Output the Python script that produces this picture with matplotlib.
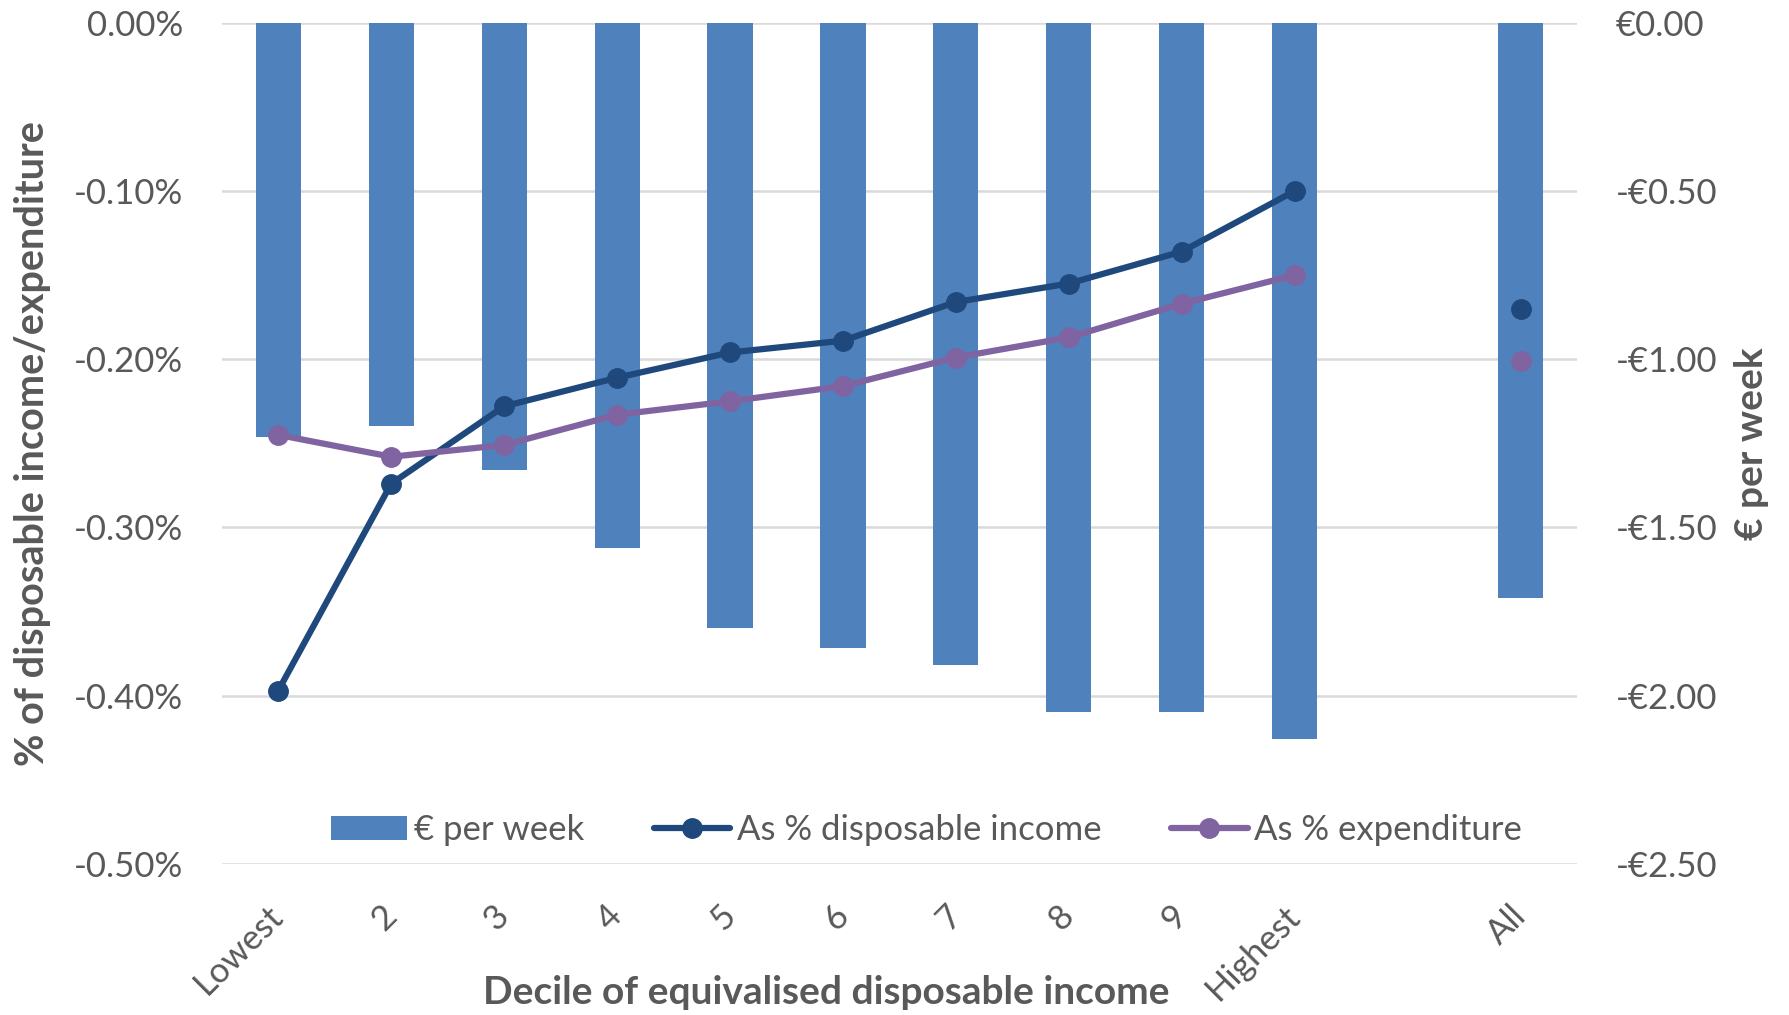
import numpy as np
import matplotlib
matplotlib.use("Agg")
import matplotlib.pyplot as plt
from matplotlib.ticker import FuncFormatter, FixedLocator

plt.rcParams['font.family'] = ['Lato', 'DejaVu Sans']

# Decile groups (blank slot separates the deciles from the overall figure)
categories = ["Lowest", "2", "3", "4", "5", "6", "7", "8", "9", "Highest", "", "All"]

# Weekly cost in euro (right axis)
euro_per_week = [-1.23, -1.20, -1.33, -1.56, -1.80, -1.86, -1.91, -2.05, -2.05, -2.13, np.nan, -1.71]
# Share of disposable income, in percent (left axis)
pct_disposable_income = [-0.397, -0.274, -0.228, -0.211, -0.196, -0.189, -0.166, -0.155, -0.136, -0.100, np.nan, -0.170]
# Share of expenditure, in percent (left axis)
pct_expenditure = [-0.245, -0.258, -0.251, -0.233, -0.225, -0.216, -0.199, -0.187, -0.167, -0.150, np.nan, -0.201]

left_ticks = [0.0, -0.1, -0.2, -0.3, -0.4, -0.5]
right_ticks = [0.0, -0.5, -1.0, -1.5, -2.0, -2.5]

BAR = "#4F81BD"
NAVY = "#1F497D"
PURPLE = "#8064A2"
TEXT = "#595959"
GRID = "#D9D9D9"

fig = plt.figure(figsize=(17.89, 10.15), dpi=100)
ax = fig.add_axes([0.124, 0.149, 0.7575, 0.8285])
ax2 = ax.twinx()

x = np.arange(len(categories))

# Bars on the euro axis, drawn underneath
bars = ax2.bar(x, euro_per_week, width=0.4, color=BAR, zorder=2, label="€ per week")
ax2.set_ylim(-2.5, 0)
ax2.yaxis.set_major_locator(FixedLocator(right_ticks))
ax2.yaxis.set_major_formatter(FuncFormatter(
    lambda v, p: ("-€%.2f" % abs(v)) if v < 0 else "€%.2f" % v))
ax2.grid(axis='y', color=GRID, linewidth=1.8, zorder=0)
ax2.set_axisbelow(True)

# Lines on the percent axis, drawn on top
ax.set_zorder(ax2.get_zorder() + 1)
ax.patch.set_visible(False)
l1, = ax.plot(x, pct_disposable_income, color=NAVY, linewidth=4.5, marker='o',
              markersize=14, label="As % disposable income", solid_capstyle='round')
l2, = ax.plot(x, pct_expenditure, color=PURPLE, linewidth=4.5, marker='o',
              markersize=14, label="As % expenditure", solid_capstyle='round')
ax.set_ylim(-0.5, 0)
ax.yaxis.set_major_locator(FixedLocator(left_ticks))
ax.yaxis.set_major_formatter(FuncFormatter(lambda v, p: "%.2f%%" % v if v != 0 else "0.00%"))
ax.set_xlim(-0.5, len(categories) - 0.5)
ax.set_xticks(x)
ax.set_xticklabels(categories, rotation=45, ha='right', va='center', rotation_mode='anchor')

for a in (ax, ax2):
    for s in a.spines.values():
        s.set_visible(False)
    a.tick_params(axis='both', length=0, labelsize=25, labelcolor=TEXT)
ax.tick_params(axis='y', pad=28)
ax2.tick_params(axis='y', pad=28)
ax.tick_params(axis='x', pad=34)

ax.set_ylabel("% of disposable income/expenditure", fontsize=28.5, fontweight='bold',
              color=TEXT, labelpad=16)
ax2.set_ylabel("€ per week", fontsize=28, fontweight='bold', color=TEXT,
               rotation=90, labelpad=12)
fig.text(0.462, 0.022, "Decile of equivalised disposable income", fontsize=28,
         fontweight='bold', color=TEXT, ha='center', va='center')

leg = ax.legend([bars, l1, l2], ["€ per week", "As % disposable income", "As % expenditure"],
                loc='center', bbox_to_anchor=(0.52, 0.04), ncol=3, frameon=False,
                fontsize=25, handlelength=2.2, handletextpad=0.2, columnspacing=2.0,
                labelcolor=TEXT)

fig.savefig("out.png", dpi=100, facecolor='white')
